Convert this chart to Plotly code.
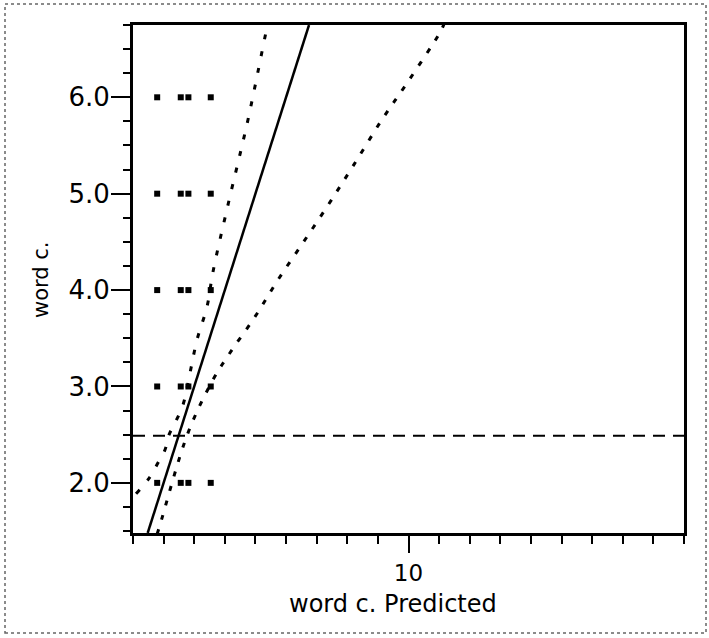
import plotly.graph_objects as go

# ---- data ----
actual_levels = [2.0, 3.0, 4.0, 5.0, 6.0]
predicted_levels = [1.79, 2.56, 2.81, 3.54]
point_x = [p for a in actual_levels for p in predicted_levels]
point_y = [a for a in actual_levels for p in predicted_levels]

fit_x = [1.48, 6.75]
fit_y = [1.48, 6.75]

upper_x = [1.10, 1.556, 1.817, 2.046, 2.176, 2.373, 2.634, 2.863, 3.092, 3.418, 3.614, 4.105, 4.758, 5.379, 5.41]
upper_y = [1.886, 2.062, 2.208, 2.343, 2.498, 2.623, 2.810, 3.142, 3.485, 3.828, 4.191, 4.887, 5.770, 6.725, 6.76]

lower_x = [1.79, 1.882, 2.797, 3.614, 4.170, 4.987, 5.739, 6.556, 7.340, 8.157, 9.137, 9.987, 11.03, 11.16]
lower_y = [1.47, 1.564, 2.519, 3.070, 3.350, 3.724, 4.108, 4.492, 4.866, 5.271, 5.770, 6.164, 6.673, 6.76]

mean_x = [1, 19]
mean_y = [2.49, 2.49]

y_ticks = [2, 3, 4, 5, 6]
y_ticktext = ["2.0", "3.0", "4.0", "5.0", "6.0"]
x_ticks = [10]
x_ticktext = ["10"]
x_minor = list(range(1, 20))

FONT = "DejaVu Sans"

fig = go.Figure()
fig.add_trace(go.Scatter(x=mean_x, y=mean_y, mode="lines",
                         line=dict(color="black", width=2, dash="12px,8px"),
                         showlegend=False, hoverinfo="skip"))
fig.add_trace(go.Scatter(x=upper_x, y=upper_y, mode="lines",
                         line=dict(color="black", width=3, dash="5px,12px", shape="spline"),
                         showlegend=False))
fig.add_trace(go.Scatter(x=lower_x, y=lower_y, mode="lines",
                         line=dict(color="black", width=3, dash="5px,10px", shape="spline"),
                         showlegend=False))
fig.add_trace(go.Scatter(x=fit_x, y=fit_y, mode="lines",
                         line=dict(color="black", width=2.5),
                         showlegend=False))
fig.add_trace(go.Scatter(x=point_x, y=point_y, mode="markers",
                         marker=dict(symbol="square", size=6, color="black"),
                         showlegend=False))

L, R, T, B = 133, 25, 25, 105
W, H = 709, 638
pw, ph = W - L - R, H - T - B

def px2paper_x(px):
    return (px - L) / pw

def py2paper_y(py):
    return (H - B - py) / ph

fig.update_layout(
    width=W, height=H,
    margin=dict(l=L, r=R, t=T, b=B, autoexpand=False),
    paper_bgcolor="white", plot_bgcolor="white",
    font=dict(family=FONT, color="black"),
    xaxis=dict(range=[1, 19], tickvals=x_ticks, ticktext=x_ticktext,
               ticks="outside", ticklen=17, tickwidth=2, tickcolor="black",
               minor=dict(tickvals=x_minor, ticks="outside", ticklen=8, tickwidth=2, tickcolor="black"),
               showline=True, linewidth=3, linecolor="black", mirror=True,
               showgrid=False, zeroline=False, tickfont=dict(size=23, family=FONT)),
    yaxis=dict(range=[1.48, 6.75], tickvals=y_ticks, ticktext=y_ticktext,
               ticks="outside", ticklen=19, tickwidth=2, tickcolor="black",
               ticklabelstandoff=-4,
               minor=dict(dtick=0.25, tick0=2, ticks="outside", ticklen=7, tickwidth=2, tickcolor="black"),
               showline=True, linewidth=3, linecolor="black", mirror=True,
               showgrid=False, zeroline=False, tickfont=dict(size=26, family=FONT)),
    annotations=[
        dict(text="word c. Predicted", x=px2paper_x(393), y=py2paper_y(604),
             xref="paper", yref="paper", showarrow=False,
             xanchor="center", yanchor="middle", font=dict(size=24, family=FONT)),
        dict(text="word c.", x=px2paper_x(41), y=py2paper_y(280),
             xref="paper", yref="paper", showarrow=False, textangle=-90,
             xanchor="center", yanchor="middle", font=dict(size=21, family=FONT)),
    ],
    shapes=[
        dict(type="rect", xref="paper", yref="paper",
             x0=px2paper_x(5), x1=px2paper_x(706), y0=py2paper_y(633), y1=py2paper_y(4),
             line=dict(color="#666", width=1.5, dash="dot"), layer="below"),
    ],
)

fig.write_html("out.html")
